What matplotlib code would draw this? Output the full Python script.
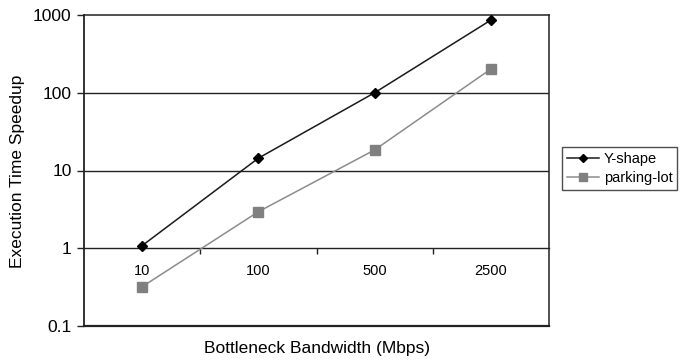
import matplotlib
matplotlib.use("Agg")
import matplotlib.pyplot as plt
from matplotlib.ticker import FixedLocator, NullFormatter, FixedFormatter, NullLocator

plt.rcParams['font.family'] = ['Liberation Sans', 'DejaVu Sans']

categories = ["10", "100", "500", "2500"]
y_shape = [1.08, 14.4, 100, 860]
parking_lot = [0.32, 2.95, 18.4, 202]
y_ticks = [0.1, 1, 10, 100, 1000]
y_tick_labels = ["0.1", "1", "10", "100", "1000"]

W, H = 684, 361
fig = plt.figure(figsize=(W / 100, H / 100), dpi=100)
L, R, T, B = 84, 549, 15, 326
ax = fig.add_axes([L / W, 1 - B / H, (R - L) / W, (B - T) / H])

x = list(range(len(categories)))
ax.plot(x, y_shape, color='#1a1a1a', lw=1.1, marker='D', ms=5,
        mfc='black', mec='black', label='Y-shape', zorder=4)
ax.plot(x, parking_lot, color='#8c8c8c', lw=1.1, marker='s', ms=6.5,
        mfc='#808080', mec='#808080', label='parking-lot', zorder=3)

ax.set_yscale('log')
ax.set_ylim(0.1, 1000)
ax.set_xlim(-0.5, len(categories) - 0.5)

ax.yaxis.set_major_locator(FixedLocator(y_ticks))
ax.yaxis.set_major_formatter(FixedFormatter(y_tick_labels))
ax.yaxis.set_minor_locator(NullLocator())
ax.tick_params(axis='y', which='major', direction='out', length=5, width=1,
               pad=4, labelsize=12.5, color='#222222')

# horizontal gridlines
for v in [10, 100]:
    ax.axhline(v, color='#222222', lw=1, zorder=1)
ax.axhline(0.1, color='#222222', lw=1.6, zorder=1, clip_on=False)

# category axis crosses at y = 1
ax.spines['bottom'].set_position(('data', 1))
ax.spines['bottom'].set_color('#222222')
ax.spines['bottom'].set_linewidth(1)
ax.xaxis.set_major_locator(FixedLocator([i + 0.5 for i in x[:-1]]))
ax.xaxis.set_major_formatter(NullFormatter())
ax.xaxis.set_minor_locator(FixedLocator(x))
ax.xaxis.set_minor_formatter(FixedFormatter(categories))
ax.tick_params(axis='x', which='major', direction='out', length=4, width=1, color='#222222')
ax.tick_params(axis='x', which='minor', length=0, pad=11, labelsize=10.5)

for s in ['left', 'right', 'top']:
    ax.spines[s].set_color('#222222')
    ax.spines[s].set_linewidth(1.1)
ax.spines['left'].set_linewidth(1.3)

fig.text((L + R) / 2 / W, 1 - 348 / H, "Bottleneck Bandwidth (Mbps)",
         ha='center', va='center', fontsize=12.5)
fig.text(18 / W, 1 - 171 / H, "Execution Time Speedup", rotation=90,
         ha='center', va='center', fontsize=12.5)

leg = fig.legend(loc='upper left', bbox_to_anchor=(562 / W, 1 - 147 / H),
                 frameon=True, fancybox=False, fontsize=10.5, numpoints=1,
                 handlelength=2.2, handletextpad=0.3, borderpad=0.35,
                 labelspacing=0.35, borderaxespad=0, markerscale=0.9)
leg.get_frame().set_edgecolor('#222222')
leg.get_frame().set_linewidth(1)

fig.savefig("out.png", dpi=100)
